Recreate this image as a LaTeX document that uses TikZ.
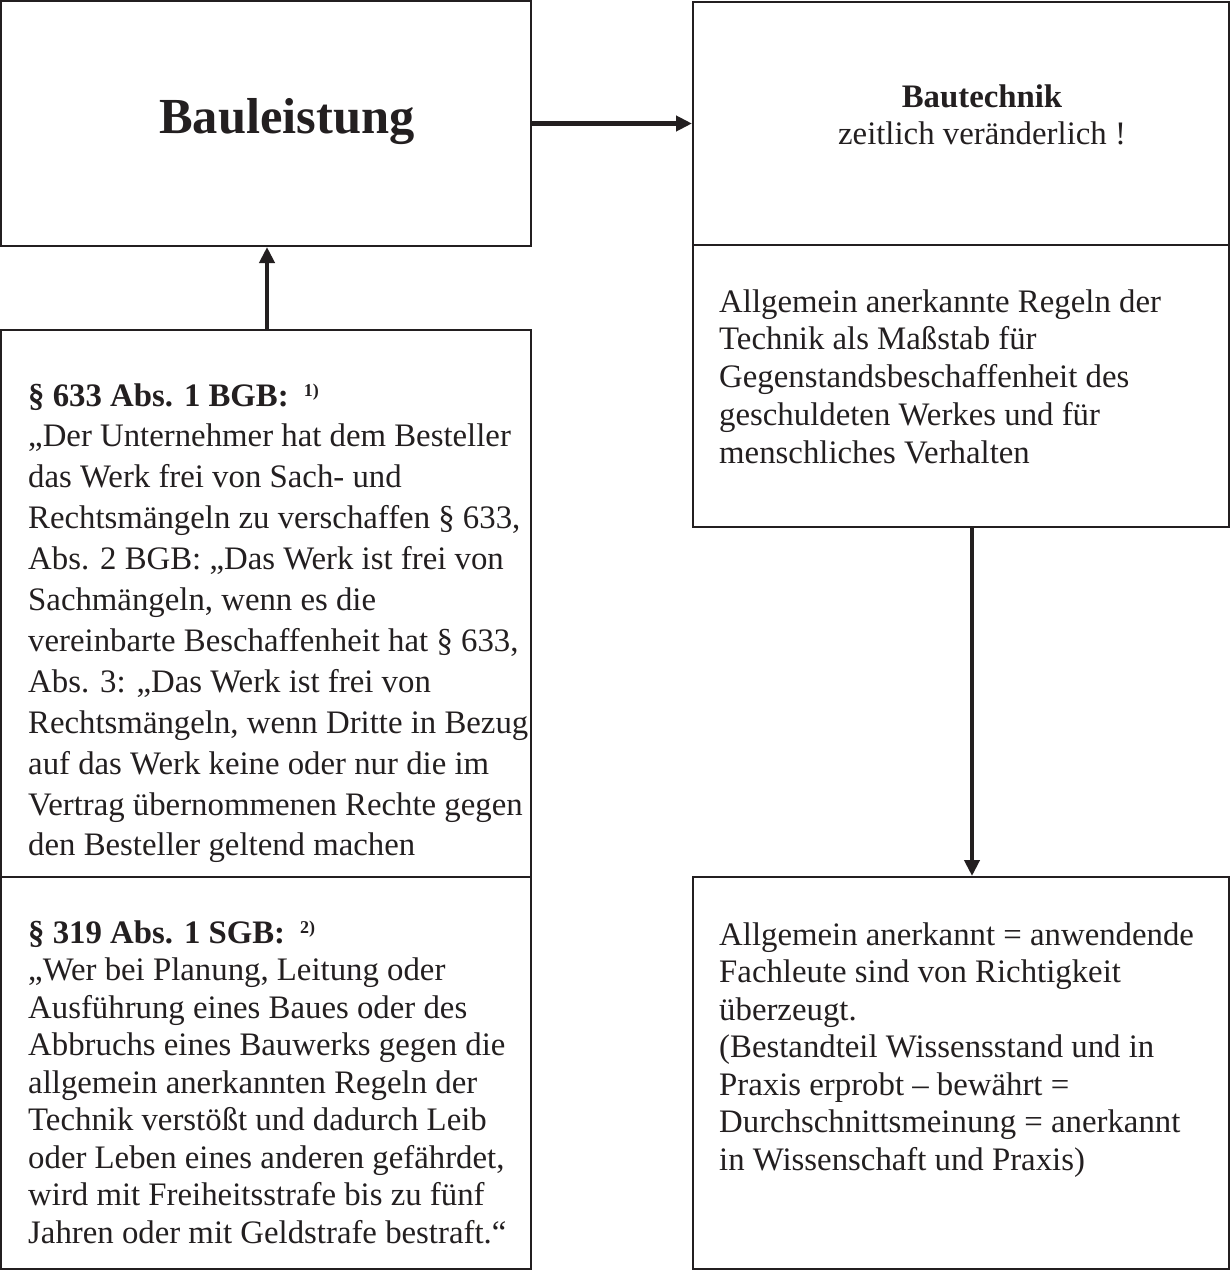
\documentclass[tikz,border=0pt]{standalone}
\usepackage{fontspec}
\setmainfont{Liberation Serif}
\usetikzlibrary{arrows.meta}
\definecolor{ink}{HTML}{231F20}
\newcommand{\bodyfont}[1]{\fontsize{32.8}{#1}\selectfont}
\newcommand{\supmark}[1]{\raisebox{10pt}{\fontsize{18}{18}\selectfont\bfseries #1}}
\tikzset{
  box/.style={draw=ink, line width=2pt, rectangle, inner sep=0pt},
  txt/.style={anchor=base west, inner sep=0pt, text=ink},
  ctxt/.style={anchor=base, inner sep=0pt, text=ink},
  arr/.style={draw=ink, line width=4.5pt, -{Triangle[length=16pt,width=15pt]}}
}
\begin{document}
\begin{tikzpicture}[x=1pt,y=-1pt]
\useasboundingbox (0,0) rectangle (1230,1271);
% boxes
\node[box, minimum width=530pt, minimum height=245pt] (A) at (266,123.5) {};
\node[box, minimum width=536pt, minimum height=243pt] (B) at (961,123.5) {};
\node[box, minimum width=536pt, minimum height=282pt] (C) at (961,386) {};
\node[box, minimum width=530pt, minimum height=547pt] (D) at (266,603.5) {};
\node[box, minimum width=530pt, minimum height=392pt] (E) at (266,1073) {};
\node[box, minimum width=536pt, minimum height=392pt] (F) at (961,1073) {};
% texts
\node[txt] (tA) at (159,133) {\fontsize{50.5}{56}\selectfont\bfseries Bauleistung};
\node[ctxt] (tB1) at (982,108) {\bodyfont{38}\bfseries Bautechnik};
\node[ctxt] (tB2) at (982,144) {\bodyfont{38}zeitlich veränderlich !};
\node[txt] (tC) at (719,312) {\parbox[t]{500pt}{\bodyfont{37.9}\parindent=0pt
Allgemein anerkannte Regeln der\\
Technik als Maßstab für\\
Gegenstandsbeschaffenheit des\\
geschuldeten Werkes und für\\
menschliches Verhalten}};
\node[txt] (tD) at (28,406) {\parbox[t]{520pt}{\bodyfont{40.9}\parindent=0pt
{\bfseries § 633 Abs. 1 BGB:}\hspace{15pt}\supmark{1)}\\
„Der Unternehmer hat dem Besteller\\
das Werk frei von Sach- und\\
Rechtsmängeln zu verschaffen § 633,\\
Abs. 2 BGB: „Das Werk ist frei von\\
Sachmängeln, wenn es die\\
vereinbarte Beschaffenheit hat § 633,\\
Abs. 3: „Das Werk ist frei von\\
Rechtsmängeln, wenn Dritte in Bezug\\
auf das Werk keine oder nur die im\\
Vertrag übernommenen Rechte gegen\\
den Besteller geltend machen}};
\node[txt] (tE) at (28,943) {\parbox[t]{520pt}{\bodyfont{37.5}\parindent=0pt
{\bfseries § 319 Abs. 1 SGB:}\hspace{15pt}\supmark{2)}\\
„Wer bei Planung, Leitung oder\\
Ausführung eines Baues oder des\\
Abbruchs eines Bauwerks gegen die\\
allgemein anerkannten Regeln der\\
Technik verstößt und dadurch Leib\\
oder Leben eines anderen gefährdet,\\
wird mit Freiheitsstrafe bis zu fünf\\
Jahren oder mit Geldstrafe bestraft.“}};
\node[txt] (tF) at (719,945) {\parbox[t]{500pt}{\bodyfont{37.5}\parindent=0pt
Allgemein anerkannt = anwendende\\
Fachleute sind von Richtigkeit\\
überzeugt.\\
(Bestandteil Wissensstand und in\\
Praxis erprobt – bewährt =\\
Durchschnittsmeinung = anerkannt\\
in Wissenschaft und Praxis)}};
% connectors
\draw[arr] (A.east) -- (B.west);
\draw[arr] ([xshift=1pt]D.north) -- ([xshift=1pt]A.south);
\draw[arr] ([xshift=11pt]C.south) -- ([xshift=11pt]F.north);
\end{tikzpicture}
\end{document}
